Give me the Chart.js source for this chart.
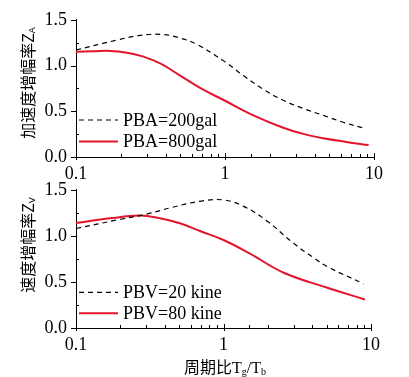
<!DOCTYPE html>
<html>
<head>
<meta charset="utf-8">
<script src="https://cdn.jsdelivr.net/npm/chart.js@4.4.0/dist/chart.umd.min.js"></script>
<style>
body{margin:0;background:#fff;width:409px;height:377px;position:relative;overflow:hidden}
canvas{position:absolute;left:0}
#accel{top:0}
#vel{top:170px}
.ytitle{position:absolute;font-family:"Noto Sans CJK SC",sans-serif;font-size:16px;line-height:1;white-space:nowrap;color:#000;transform:translate(-50%,-50%) rotate(-90deg)}
.ytitle sub{font-family:"Liberation Sans",sans-serif;font-size:9px;vertical-align:-1px}
.xtitle{position:absolute;left:225px;top:367px;transform:translate(-50%,-50%);font-family:"Noto Sans CJK SC",sans-serif;font-size:16px;line-height:1;white-space:nowrap;color:#000}
.xtitle .s{font-family:"Liberation Serif",serif;font-size:16px}
.xtitle sub{font-size:10px;vertical-align:-2px}
</style>
</head>
<body>
<canvas id="accel" width="409" height="185"></canvas>
<canvas id="vel" width="409" height="207"></canvas>
<div class="ytitle" style="left:28px;top:83px">加速度增幅率Z<sub>A</sub></div>
<div class="ytitle" style="left:28px;top:245px">速度增幅率Z<sub>V</sub></div>
<div class="xtitle">周期比<span class="s">T<sub>g</sub>/T<sub>b</sub></span></div>
<script>
// period ratio Tg/Tb (x) and amplification ratios
var accelX200 = [0.1,0.19,0.27,0.38,0.5,0.65,1,1.33,1.81,2.46,3.36,4.57,6.2,8.8];
var accel200  = [1.17,1.28,1.33,1.34,1.30,1.23,1.04,0.89,0.74,0.62,0.53,0.455,0.38,0.31];
var accelX800 = [0.1,0.13,0.17,0.22,0.28,0.37,0.5,0.68,1,1.55,2.46,3.4,4.57,6.5,9.2];
var accel800  = [1.15,1.155,1.16,1.14,1.10,1.02,0.89,0.755,0.615,0.455,0.32,0.25,0.205,0.165,0.13];

var velX20 = [0.1,0.2,0.3,0.45,0.69,1,1.37,1.96,2.98,4.1,5,8.9];
var vel20  = [1.08,1.18,1.235,1.31,1.375,1.39,1.32,1.165,0.92,0.76,0.67,0.48];
var velX80 = [0.1,0.17,0.27,0.35,0.5,0.7,1,1.5,2.56,5,9.1];
var vel80  = [1.14,1.19,1.22,1.20,1.14,1.05,0.955,0.81,0.60,0.44,0.31];

var xTickLabels = ['0.1','1','10'];
var yTicks = [0,0.5,1,1.5];
var accelLabels = ['PBA=200gal','PBA=800gal'];
var velLabels = ['PBV=20 kine','PBV=80 kine'];

const RED = '#e3142b';

const toPoints = (xs, ys) => xs.map((x,i) => ({x:x, y:ys[i]}));

const isPow10 = (v) => {
const l = Math.log10(v);
return Math.abs(l - Math.round(l)) < 1e-6;
};

// inward/outward tick marks like the original plot
const axisTicks = {
id:'axisTicks',
afterDraw(chart){
const {ctx, scales:{x,y}} = chart;
ctx.save();
ctx.strokeStyle = '#000';
ctx.lineWidth = 1;
ctx.beginPath();
x.ticks.forEach(t => {
const px = Math.round(x.getPixelForValue(t.value)) + 0.5;
const b = y.bottom;
if(isPow10(t.value)){
ctx.moveTo(px, b - 4); ctx.lineTo(px, b + 3);
}else{
ctx.moveTo(px, b - 3); ctx.lineTo(px, b);
}
});
yTicks.forEach(v => {
const py = Math.round(y.getPixelForValue(v)) + 0.5;
ctx.moveTo(x.left - 5, py); ctx.lineTo(x.left, py);
if(v < 1.5){
const pm = Math.round(y.getPixelForValue(v + 0.25)) + 0.5;
ctx.moveTo(x.left, pm); ctx.lineTo(x.left + 3, pm);
}
});
ctx.stroke();
ctx.restore();
}
};

// legend drawn inside the plot area
const inLegend = {
id:'inLegend',
afterDraw(chart, args, opts){
const {ctx} = chart;
ctx.save();
ctx.font = '18px "Liberation Serif", serif';
ctx.textBaseline = 'middle';
ctx.fillStyle = '#000';
chart.data.datasets.forEach((ds, i) => {
const yy = opts.ys[i];
ctx.strokeStyle = ds.borderColor;
ctx.lineWidth = ds.borderWidth;
ctx.setLineDash(ds.borderDash || []);
ctx.beginPath();
ctx.moveTo(79, yy); ctx.lineTo(118, yy);
ctx.stroke();
ctx.setLineDash([]);
ctx.fillText(ds.label, 123, yy + 1);
});
ctx.restore();
}
};

const makeChart = (id, datasets, pad, axisBottom, legendYs) => {
const canvas = document.getElementById(id);
return new Chart(canvas, {
type:'line',
data:{datasets},
options:{
responsive:false,
animation:false,
devicePixelRatio:1,
layout:{padding:{top:pad.top, right:pad.right, left:0, bottom:0}},
plugins:{legend:{display:false}, tooltip:{enabled:false}, inLegend:{ys:legendYs}},
elements:{point:{radius:0}, line:{tension:0.4}},
scales:{
x:{
type:'logarithmic',
min:0.1, max:10,
border:{display:true, color:'#000', width:1},
grid:{drawOnChartArea:false, drawTicks:false},
afterFit(scale){ scale.height = canvas.height - axisBottom; },
ticks:{
autoSkip:false, maxRotation:0, padding:6,
color:'#000',
font:{family:'"Liberation Serif", serif', size:18},
callback(v){ return isPow10(v) ? xTickLabels[Math.round(Math.log10(v)) + 1] : ''; }
}
},
y:{
min:0, max:1.5,
border:{display:true, color:'#000', width:1},
grid:{drawOnChartArea:false, drawTicks:false},
afterFit(scale){ scale.width = 76; },
ticks:{
stepSize:0.5, padding:9,
color:'#000',
font:{family:'"Liberation Serif", serif', size:18},
callback(v){ return v.toFixed(1); }
}
}
}
},
plugins:[axisTicks, inLegend]
});
};

makeChart('accel', [
{label:accelLabels[0], data:toPoints(accelX200, accel200), borderColor:'#000', borderWidth:1.2, borderDash:[5,4], fill:false},
{label:accelLabels[1], data:toPoints(accelX800, accel800), borderColor:RED, borderWidth:2, fill:false}
], {top:19, right:35}, 157, [120, 141.5]);

makeChart('vel', [
{label:velLabels[0], data:toPoints(velX20, vel20), borderColor:'#000', borderWidth:1.2, borderDash:[5,4], fill:false},
{label:velLabels[1], data:toPoints(velX80, vel80), borderColor:RED, borderWidth:2, fill:false}
], {top:17, right:38}, 158, [122.3, 143.3]);
</script>
</body>
</html>
